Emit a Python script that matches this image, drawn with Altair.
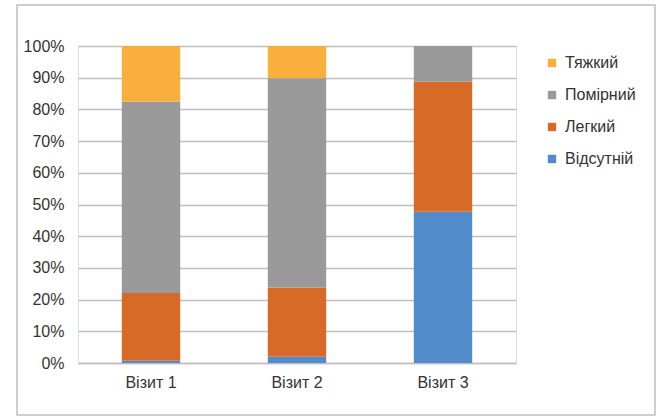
import altair as alt
import pandas as pd

visits = ["Візит 1", "Візит 2", "Візит 3"]
categories = ["Відсутній", "Легкий", "Помірний", "Тяжкий"]
absent = [0.7, 2.0, 47.7]
mild = [21.4, 21.8, 41.0]
moderate = [60.3, 66.0, 11.3]
severe = [17.6, 10.2, 0.0]
colors = ["#528BCA", "#D76A26", "#999999", "#F9AF3C"]
y_ticks = [0, 10, 20, 30, 40, 50, 60, 70, 80, 90, 100]

rows = []
for i, v in enumerate(visits):
    for k, (c, vals) in enumerate(zip(categories, [absent, mild, moderate, severe])):
        rows.append({"visit": v, "cat": c, "order": k, "value": vals[i] / 100.0})
df = pd.DataFrame(rows)

FONT = "Liberation Sans"
TEXT = "#333333"

bars = alt.Chart(df).mark_bar().encode(
    x=alt.X("visit:N", sort=visits, title=None,
            scale=alt.Scale(paddingInner=0.6, paddingOuter=0.3),
            axis=alt.Axis(labelAngle=0, labelFontSize=16, labelColor=TEXT,
                          labelFont=FONT, domainColor="#BFBFBF", domainWidth=1.5,
                          ticks=False, labelPadding=11)),
    y=alt.Y("value:Q", stack="zero", title=None,
            scale=alt.Scale(domain=[0, 1], nice=False),
            axis=alt.Axis(format=".0%", values=[t / 100 for t in y_ticks],
                          labelFontSize=16, labelColor=TEXT, labelFont=FONT,
                          gridColor="#BFBFBF", gridWidth=1.5, domain=False,
                          ticks=False, labelPadding=14)),
    color=alt.Color("cat:N", sort=categories,
                    scale=alt.Scale(domain=categories, range=colors),
                    legend=alt.Legend(title=None, orient="none", legendX=466, legendY=9,
                                      symbolType="square", symbolSize=70,
                                      symbolStrokeWidth=0, labelFontSize=16,
                                      labelFont=FONT, labelColor=TEXT,
                                      rowPadding=16, labelOffset=5,
                                      values=categories[::-1])),
    order=alt.Order("order:Q", sort="ascending"),
)

frame = alt.Chart(pd.DataFrame({"a": [0]})).mark_rect(
    fill=None, stroke="#BFBFBF", strokeWidth=1.5
).encode(
    x=alt.value(-61), x2=alt.value(577), y=alt.value(-41), y2=alt.value(369)
)

chart = alt.layer(bars, frame).properties(
    width=438, height=317,
    autosize=alt.AutoSizeParams(type="none"),
    padding={"left": 78, "top": 46, "right": 153, "bottom": 54},
).configure_view(stroke=None).configure(background="white")

chart.save("out.html", embed_options={"renderer": "svg", "actions": False})
